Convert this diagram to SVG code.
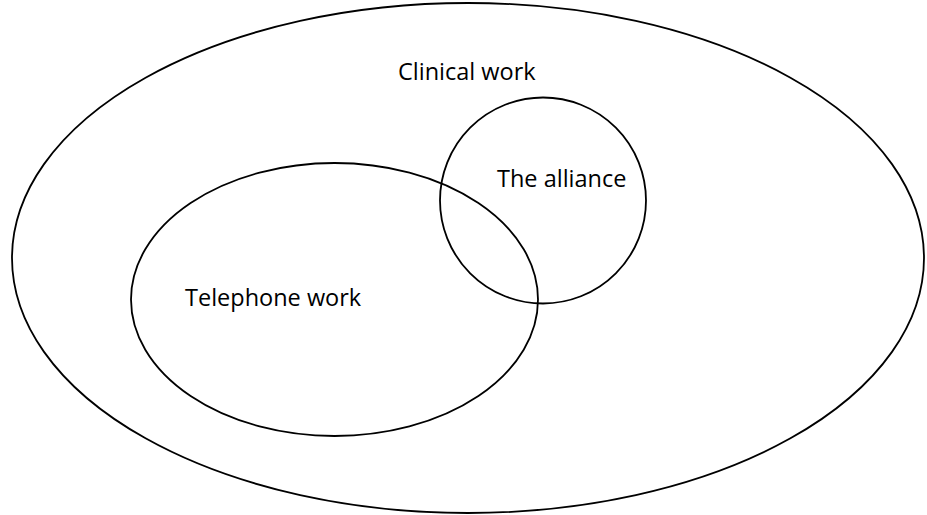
<svg xmlns="http://www.w3.org/2000/svg" width="927" height="515" viewBox="0 0 927 515">
  <style>
    .ring { fill: none; stroke: #000; stroke-width: 1.8; }
    .label { font-family: "Open Sans", "Liberation Sans", sans-serif; font-size: 23.5px; fill: #000; }
  </style>
  <rect width="927" height="515" fill="#fff"/>
  <g id="clinical-work">
    <ellipse class="ring" cx="468" cy="258" rx="456" ry="255"/>
    <text class="label" x="398" y="80">Clinical work</text>
  </g>
  <g id="telephone-work">
    <ellipse class="ring" cx="334.5" cy="299.5" rx="203.5" ry="136.5"/>
    <text class="label" x="185" y="306">Telephone work</text>
  </g>
  <g id="the-alliance">
    <circle class="ring" cx="543" cy="200.5" r="103"/>
    <text class="label" x="497" y="187">The alliance</text>
  </g>
  <g id="connectors"/>
</svg>
